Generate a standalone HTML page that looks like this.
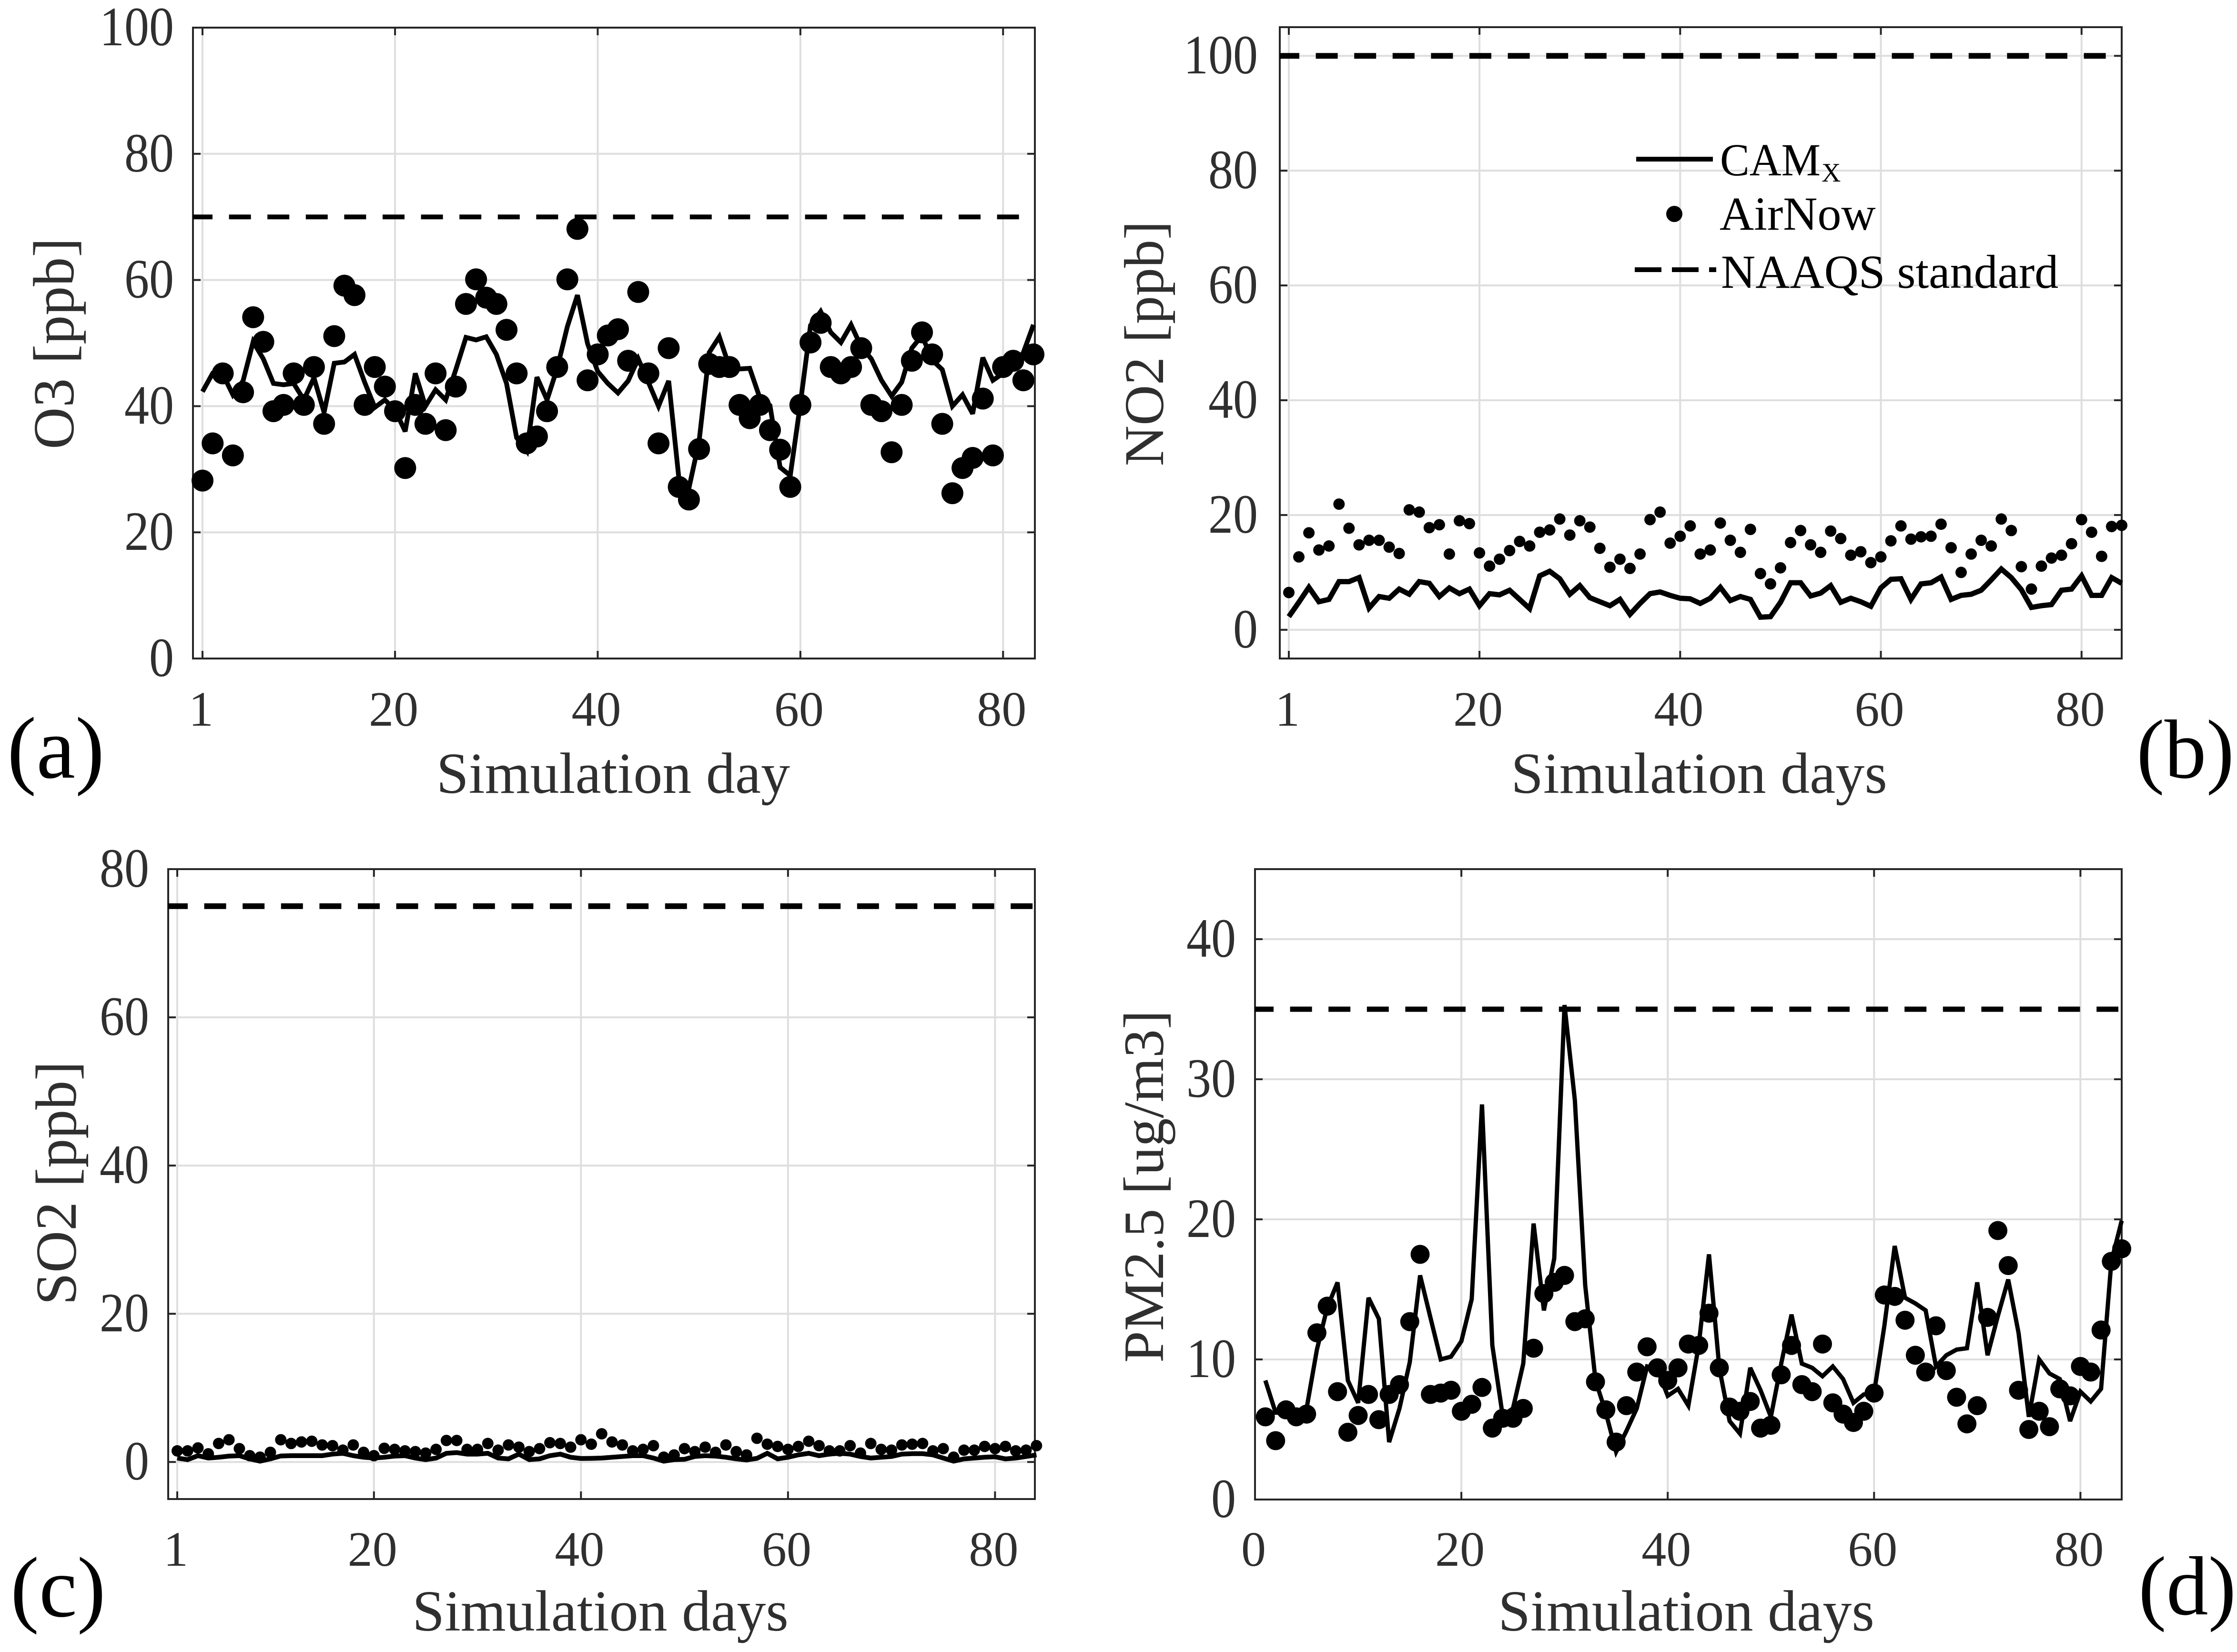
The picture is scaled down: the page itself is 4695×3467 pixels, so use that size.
<!DOCTYPE html>
<html lang="en">
<head>
<meta charset="utf-8">
<title>Air quality simulation vs observations</title>
<style>
html,body{margin:0;padding:0;background:#fff;}
svg{display:block;}
text{font-family:"Liberation Serif",serif;fill:#2f2f2f;}
</style>
</head>
<body>
<svg id="figure" xmlns="http://www.w3.org/2000/svg" width="4695" height="3467" viewBox="0 0 4695 3467">
  <rect x="0" y="0" width="4695" height="3467" fill="#fff"/>
  <g id="plots"></g>

  <text x="1287" y="1664" font-size="122" text-anchor="middle">Simulation day</text>
  <text x="3566" y="1664" font-size="122" text-anchor="middle">Simulation days</text>
  <text x="1260" y="3422" font-size="122" text-anchor="middle">Simulation days</text>
  <text x="3539" y="3422" font-size="122" text-anchor="middle">Simulation days</text>

  <text transform="translate(154 721) rotate(-90)" font-size="122" text-anchor="middle">O3 [ppb]</text>
  <text transform="translate(2441 721) rotate(-90)" font-size="118" text-anchor="middle">NO2 [ppb]</text>
  <text transform="translate(159 2483) rotate(-90)" font-size="122" text-anchor="middle">SO2 [ppb]</text>
  <text transform="translate(2441 2490) rotate(-90)" font-size="120" text-anchor="middle">PM2.5 [ug/m3]</text>

  <text x="15" y="1632" font-size="184" style="fill:#000">(a)</text>
  <text x="4484" y="1632" font-size="176" style="fill:#000">(b)</text>
  <text x="22" y="3392" font-size="180" style="fill:#000">(c)</text>
  <text x="4488" y="3388" font-size="176" style="fill:#000">(d)</text>

  <g>
    <line x1="3434" y1="334" x2="3595" y2="334" stroke="#000" stroke-width="10"/>
    <text x="3610" y="368" font-size="96" textLength="211" lengthAdjust="spacingAndGlyphs" style="fill:#000">CAM</text>
    <text x="3823" y="381" font-size="56" style="fill:#000">X</text>
    <circle cx="3514" cy="449" r="17" fill="#000"/>
    <text x="3609" y="482" font-size="100" style="fill:#000">AirNow</text>
    <line x1="3431" y1="566" x2="3602" y2="566" stroke="#000" stroke-width="10" stroke-dasharray="56 22"/>
    <text x="3612" y="604" font-size="100" style="fill:#000">NAAQS standard</text>
  </g>
</svg>

<script>
const days = [1,2,3,4,5,6,7,8,9,10,11,12,13,14,15,16,17,18,19,20,21,22,23,24,25,26,27,28,29,30,31,32,33,34,35,36,37,38,39,40,41,42,43,44,45,46,47,48,49,50,51,52,53,54,55,56,57,58,59,60,61,62,63,64,65,66,67,68,69,70,71,72,73,74,75,76,77,78,79,80,81,82,83,84];

const o3Camx = [42.3,45.2,45.1,41.8,44,50.2,47.5,43.6,43.4,43.6,41,44.5,39,46.8,47,48.2,43.8,39.8,41,39.4,36,45.2,40,42.6,41,45.8,50.9,50.5,51,48.2,43.6,35,32.9,44.6,41,46,52.6,57.6,49.9,45.5,43.6,42.1,44,47.5,43.8,40,44,28.7,27,34.4,48.5,51,46.2,45.9,46,41.3,40.1,30.3,29,40.4,52.8,55,51.7,50.1,52.9,49.4,47.5,44.1,41.6,43.8,49.2,51.2,47.3,45.8,40,41.8,38.8,47.7,44.1,45.2,46.2,48.5,52.9];
const o3AirNow = [28.2,34.1,45.2,32.2,42.2,54.1,50.2,39.2,40.2,45.2,40.2,46.2,37.2,51.1,59.1,57.6,40.2,46.2,43.1,39.2,30.2,40.2,37.2,45.2,36.2,43.1,56.2,60.1,57.2,56.2,52.1,45.2,34.1,35.2,39.2,46.2,60.1,68.1,44.1,48.2,51.2,52.2,47.2,58.1,45.2,34.1,49.2,27.2,25.2,33.2,46.7,46.2,46.2,40.2,38.1,40.2,36.2,33.1,27.2,40.2,50.1,53.2,46.2,45.2,46.2,49.2,40.2,39.2,32.7,40.2,47.2,51.7,48.2,37.2,26.2,30.2,31.8,41.2,32.2,46.2,47.2,44.1,48.2];
const o3Standard = [70];
const o3XTicks = [1,20,40,60,80];
const o3YTicks = [0,20,40,60,80,100];

const no2Camx = [2.3,4.8,7.4,4.9,5.3,8.4,8.4,9.1,3.8,5.8,5.5,7.1,6.2,8.4,8.1,5.8,7.3,6.3,7.1,4.2,6.3,6.1,6.9,5.3,3.7,9.4,10.2,8.9,6.2,7.7,5.6,4.9,4.2,5.3,2.7,4.6,6.3,6.6,6,5.5,5.4,4.6,5.5,7.4,5.1,5.8,5.3,2.2,2.3,4.8,8.2,8.2,5.9,6.4,7.7,4.8,5.5,4.9,4.1,7.3,8.8,8.9,5.3,8,8.2,9.2,5.3,6,6.2,6.9,8.7,10.6,9.1,7,3.9,4.2,4.4,6.9,7.1,9.4,6,6,9.1,8.1];
const no2AirNow = [6.5,12.7,16.9,13.9,14.6,21.9,17.7,14.8,15.6,15.6,14.4,13.3,20.9,20.5,17.8,18.3,13.2,19,18.5,13.4,11.1,12.3,13.8,15.4,14.6,17,17.4,19.3,16.5,19,17.9,14.2,10.9,12.3,10.7,13.2,19.2,20.5,15.1,16.3,18.1,13.2,13.9,18.6,15.6,13.5,17.5,9.8,8,10.8,15.2,17.3,14.8,13.5,17.2,15.9,13,13.6,11.7,12.7,15.5,18.1,15.8,16.2,16.3,18.4,14.3,10,13.2,15.6,14.6,19.3,17.3,11,7.1,11.1,12.5,13,15,19.2,17,12.8,18,18.2];
const no2Standard = [100];
const no2XTicks = [1,20,40,60,80];
const no2YTicks = [0,20,40,60,80,100];

const so2Camx = [0.53,0.32,0.85,0.53,0.64,0.79,0.85,0.42,0.11,0.42,0.81,0.85,0.85,0.85,0.85,1.06,1.17,0.85,0.64,0.53,0.64,0.79,0.85,0.53,0.32,0.53,1.17,1.27,1.06,1.06,1.17,0.53,0.42,1.06,0.32,0.42,0.85,1.06,0.64,0.47,0.49,0.53,0.64,0.74,0.85,0.85,0.53,0.11,0.32,0.36,0.74,0.85,0.79,0.64,0.42,0.28,0.49,1.17,0.42,0.64,0.96,1.17,0.85,1.06,1.17,1.06,0.74,0.53,0.64,0.74,1.06,1.12,1.12,0.96,0.53,0.11,0.42,0.53,0.64,0.7,0.42,0.53,0.74,0.96];
const so2AirNow = [1.5,1.5,1.9,1.1,2.5,3,1.8,0.85,0.65,1.3,3,2.5,2.7,2.8,2.3,2.2,1.6,2.3,1.3,0.85,1.85,1.7,1.5,1.4,1.2,1.7,2.9,2.9,1.7,1.7,2.5,1.6,2.3,2,1.4,1.8,2.6,2.5,2,3,2.4,3.8,2.7,2.3,1.5,1.7,2.2,0.65,0.95,1.8,1.4,2,1.3,2.3,1.4,0.95,3.2,2.4,2.1,1.7,2.1,2.8,2.2,1.5,1.5,2.2,1.2,2.5,1.7,1.6,2.3,2.4,2.5,1.5,1.8,0.65,1.6,1.6,2.1,1.8,2.1,1.5,1.6,2.2];
const so2Standard = [75];
const so2XTicks = [1,20,40,60,80];
const so2YTicks = [0,20,40,60,80];

const pm25Camx = [8.5,6.2,6.2,5.7,6.5,10.7,13.7,15.5,8.5,6.9,14.4,12.9,4.1,6.5,9.8,16,13,10,10.2,11.3,14.3,28.2,11,6,6.5,9.7,19.7,13.5,17.2,35.3,28.5,15.3,8.5,6.2,3.4,4.9,6.5,9.5,9.3,7.4,7.9,6.7,11,17.5,9.4,5.6,4.7,9.4,7.8,5.9,9.7,13.2,9.7,9.4,8.8,9.5,8.6,6.9,7.5,7.6,12.4,18.1,14.4,14,13.5,9.5,10.3,10.7,10.8,15.5,10.3,13.1,15.7,11.9,5.9,10,9,8.6,5.6,7.7,7,7.9,17,19.9];
const pm25AirNow = [5.9,4.2,6.4,5.9,6.1,11.9,13.8,7.7,4.8,6,7.5,5.7,7.5,8.2,12.7,17.5,7.5,7.6,7.8,6.3,6.8,8,5.1,5.8,5.8,6.5,10.8,14.7,15.5,16,12.7,12.9,8.4,6.4,4.1,6.7,9.1,10.9,9.4,8.5,9.4,11.1,11,13.3,9.4,6.6,6.3,7,5.1,5.3,8.9,11,8.2,7.7,11.1,6.9,6.1,5.5,6.3,7.6,14.6,14.5,12.8,10.3,9.1,12.4,9.2,7.3,5.4,6.7,13,19.2,16.7,7.8,5,6.3,5.2,7.9,7.4,9.5,9.1,12.1,17,17.9];
const pm25Standard = [35];
const pm25XTicks = [0,20,40,60,80];
const pm25YTicks = [0,10,20,30,40];

const SVGNS = 'http://www.w3.org/2000/svg';
const plotsRoot = document.getElementById('plots');

function mk(tag, parent, attrs) {
  const el = document.createElementNS(SVGNS, tag);
  for (const k in attrs) el.setAttribute(k, attrs[k]);
  parent.appendChild(el);
  return el;
}

function linearScale(d0, d1, r0, r1) {
  return function (v) { return r0 + (v - d0) * (r1 - r0) / (d1 - d0); };
}

function drawPanel(cfg) {
  const sx = linearScale(cfg.xDomain[0], cfg.xDomain[1], cfg.left, cfg.right);
  const sy = linearScale(cfg.yDomain[0], cfg.yDomain[1], cfg.bottom, cfg.top);
  const g = mk('g', plotsRoot, {});
  
  

  cfg.xTicks.forEach(function (t) {
    const x = sx(t);
    const grid = mk('line', g, {x1: x, x2: x, y1: cfg.top, y2: cfg.bottom, stroke: '#dedede', 'stroke-width': 4});
    
    
  });
  cfg.yTicks.forEach(function (t) {
    const y = sy(t);
    const grid = mk('line', g, {x1: cfg.left, x2: cfg.right, y1: y, y2: y, stroke: '#dedede', 'stroke-width': 4});
    
    
  });

  const frame = mk('rect', g, {x: cfg.left, y: cfg.top, width: cfg.right - cfg.left, height: cfg.bottom - cfg.top, fill: 'none', stroke: '#262626', 'stroke-width': 4});
  
  

  cfg.xTicks.forEach(function (t) {
    const x = sx(t);
    const bottomTick = mk('line', g, {x1: x, x2: x, y1: cfg.bottom, y2: cfg.bottom - 16, stroke: '#262626', 'stroke-width': 4});
    
    
    const topTick = mk('line', g, {x1: x, x2: x, y1: cfg.top, y2: cfg.top + 16, stroke: '#262626', 'stroke-width': 4});
    
    
    const label = mk('text', g, {x: x - 3, y: cfg.xLabelY, 'font-size': 104, 'text-anchor': 'middle'});
    
    
    label.textContent = String(t);
  });
  cfg.yTicks.forEach(function (t) {
    const y = sy(t);
    const leftTick = mk('line', g, {x1: cfg.left, x2: cfg.left + 16, y1: y, y2: y, stroke: '#262626', 'stroke-width': 4});
    
    
    const rightTick = mk('line', g, {x1: cfg.right, x2: cfg.right - 16, y1: y, y2: y, stroke: '#262626', 'stroke-width': 4});
    
    
    const label = mk('text', g, {'font-size': 104, 'text-anchor': 'end', transform: 'translate(' + cfg.yLabelX + ' ' + (y + 37) + ') scale(1 1.12)'});
    
    
    label.textContent = String(t);
  });

  const sy0 = sy(cfg.standard[0]);
  const std = mk('line', g, {x1: cfg.dashStart, x2: cfg.dashEnd, y1: sy0, y2: sy0, stroke: '#000', 'stroke-width': cfg.dashWidth, 'stroke-dasharray': '46 34.6', 'stroke-dashoffset': cfg.dashOffset});
  
  

  const pts = cfg.camx.map(function (v, i) { return sx(days[i]).toFixed(1) + ',' + sy(v).toFixed(1); }).join(' ');
  const line = mk('polyline', g, {points: pts, fill: 'none', stroke: '#000', 'stroke-width': cfg.lineWidth, 'stroke-linejoin': 'miter', 'stroke-miterlimit': 3});
  
  

  cfg.airnow.forEach(function (v, i) {
    const dot = mk('circle', g, {cx: sx(days[i]).toFixed(1), cy: sy(v).toFixed(1), r: cfg.radius, fill: '#000'});
    
    
  });
}

drawPanel({id: 'a-o3', camx: o3Camx, airnow: o3AirNow, standard: o3Standard, xTicks: o3XTicks, yTicks: o3YTicks,
  xDomain: [0.06, 83.14], yDomain: [0, 100], left: 405, right: 2172, top: 58, bottom: 1382,
  xLabelY: 1523, yLabelX: 365, radius: 23, lineWidth: 10, dashStart: 405, dashEnd: 2139, dashWidth: 10, dashOffset: 5});
drawPanel({id: 'b-no2', camx: no2Camx, airnow: no2AirNow, standard: no2Standard, xTicks: no2XTicks, yTicks: no2YTicks,
  xDomain: [0.1, 84], yDomain: [-5, 105], left: 2686, right: 4453, top: 57, bottom: 1382,
  xLabelY: 1523, yLabelX: 2640, radius: 12, lineWidth: 11, dashStart: 2686, dashEnd: 4432, dashWidth: 12, dashOffset: 5});
drawPanel({id: 'c-so2', camx: so2Camx, airnow: so2AirNow, standard: so2Standard, xTicks: so2XTicks, yTicks: so2YTicks,
  xDomain: [0.125, 83.85], yDomain: [-5, 80], left: 353, right: 2172, top: 1824, bottom: 3146,
  xLabelY: 3286, yLabelX: 313, radius: 12, lineWidth: 10, dashStart: 353, dashEnd: 2172, dashWidth: 12, dashOffset: 5});
drawPanel({id: 'd-pm25', camx: pm25Camx, airnow: pm25AirNow, standard: pm25Standard, xTicks: pm25XTicks, yTicks: pm25YTicks,
  xDomain: [0, 84], yDomain: [0, 45], left: 2634, right: 4453, top: 1824, bottom: 3147,
  xLabelY: 3286, yLabelX: 2594, radius: 20, lineWidth: 9, dashStart: 2634, dashEnd: 4446, dashWidth: 11, dashOffset: 7});
</script>
</body>
</html>
